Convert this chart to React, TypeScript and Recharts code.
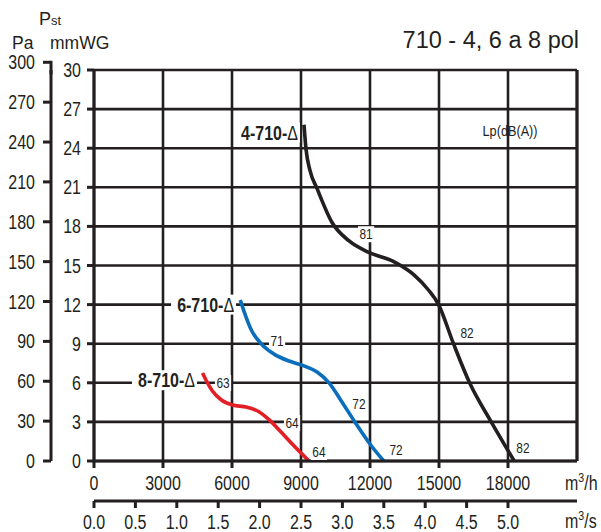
import React from "react";
import {
  ComposedChart,
  Line,
  XAxis,
  YAxis,
  CartesianGrid,
  ReferenceLine,
  ReferenceDot,
} from "recharts";

const INK = "#231f20";
const FONT = "'Liberation Sans', Arial, sans-serif";
const SQUEEZE = 0.82; // no narrow face installed, so squeeze Liberation Sans

// flow axis (m3/h) and its twin in m3/s
const FLOW_TICKS = [0, 3000, 6000, 9000, 12000, 15000, 18000];
const FLOW_MAX = 21000;
const SEC_TICKS = [0, 0.5, 1, 1.5, 2, 2.5, 3, 3.5, 4, 4.5, 5];
const MMWG_TICKS = [0, 3, 6, 9, 12, 15, 18, 21, 24, 27, 30];
const PA_TICKS = [0, 30, 60, 90, 120, 150, 180, 210, 240, 270, 300];
const MMWG_TO_PA = 9.80665;

// q = m3/h, p = mmWG
const curve4 = [
  { q: 9130, p: 25.8 },
  { q: 9220, p: 23.9 },
  { q: 9390, p: 22.3 },
  { q: 9700, p: 20.9 },
  { q: 10350, p: 18.3 },
  { q: 11080, p: 16.9 },
  { q: 11950, p: 16.0 },
  { q: 13030, p: 15.3 },
  { q: 13900, p: 14.3 },
  { q: 14550, p: 13.1 },
  { q: 14980, p: 12.0 },
  { q: 15630, p: 9.0 },
  { q: 16330, p: 6.0 },
  { q: 17270, p: 3.0 },
  { q: 18270, p: 0 },
];

const curve6 = [
  { q: 6360, p: 12.35 },
  { q: 6580, p: 11.2 },
  { q: 6840, p: 10.05 },
  { q: 7270, p: 9.0 },
  { q: 7830, p: 8.2 },
  { q: 8480, p: 7.67 },
  { q: 9130, p: 7.3 },
  { q: 9700, p: 6.83 },
  { q: 10220, p: 6.0 },
  { q: 10780, p: 4.53 },
  { q: 11340, p: 3.0 },
  { q: 12030, p: 1.23 },
  { q: 12600, p: 0 },
];

const curve8 = [
  { q: 4720, p: 6.75 },
  { q: 4890, p: 6.14 },
  { q: 5150, p: 5.37 },
  { q: 5540, p: 4.68 },
  { q: 6020, p: 4.3 },
  { q: 6620, p: 4.14 },
  { q: 7190, p: 3.76 },
  { q: 7620, p: 3.15 },
  { q: 8050, p: 2.38 },
  { q: 8700, p: 1.15 },
  { q: 9350, p: 0 },
];

// keeps the m3/s axis alive (it carries no series of its own)
const secAxisSpan = [
  { q: 0, p: 0 },
  { q: FLOW_MAX / 3600, p: 0 },
];

const seriesNames = [
  { q: 8870, p: 25.2, text: "4-710-" },
  { q: 6090, p: 12.0, text: "6-710-" },
  { q: 4390, p: 6.2, text: "8-710-" },
];

const lpLabels = [
  { q: 11830, p: 17.4, text: "81" },
  { q: 16220, p: 9.82, text: "82" },
  { q: 18650, p: 1.0, text: "82" },
  { q: 7960, p: 9.2, text: "71" },
  { q: 11520, p: 4.37, text: "72" },
  { q: 13130, p: 0.84, text: "72" },
  { q: 5610, p: 5.98, text: "63" },
  { q: 8610, p: 2.92, text: "64" },
  { q: 9780, p: 0.69, text: "64" },
];

function NText(props: {
  x: number;
  y: number;
  size: number;
  anchor?: "start" | "middle" | "end";
  dy?: string;
  children: React.ReactNode;
}) {
  const { x, y, size, anchor = "start", dy = "0", children } = props;
  return (
    <g transform={`translate(${x},${y}) scale(${SQUEEZE},1)`}>
      <text x={0} y={0} dy={dy} textAnchor={anchor} fontSize={size} fontFamily={FONT} fill={INK}>
        {children}
      </text>
    </g>
  );
}

function BottomTick(props: any) {
  const { x, y, payload, digits } = props;
  const v = digits ? Number(payload.value).toFixed(digits) : payload.value;
  return (
    <NText x={x} y={y} size={19.5} anchor="middle" dy="0.71em">
      {v}
    </NText>
  );
}

function LeftTick(props: any) {
  const { x, y, payload } = props;
  return (
    <NText x={x} y={y} size={19.5} anchor="end" dy="0.36em">
      {payload.value}
    </NText>
  );
}

function PaTick(props: any) {
  const { x, y, payload } = props;
  return (
    <g>
      <NText x={x} y={y} size={19.5} anchor="end" dy="0.36em">
        {payload.value}
      </NText>
      {payload.value === 300 && (
        <line x1={x + 16} x2={x + 16} y1={y - 1.5} y2={y + 12} stroke={INK} strokeWidth={3} />
      )}
    </g>
  );
}

function LpTag({ cx, cy, text }: { cx: number; cy: number; text: string }) {
  const w = text.length * 6.6 + 3;
  return (
    <g>
      <rect x={cx - w / 2} y={cy - 8} width={w} height={16} fill="#fff" />
      <NText x={cx} y={cy} size={14.5} anchor="middle" dy="0.36em">
        {text}
      </NText>
    </g>
  );
}

function NameTag({ cx, cy, text }: { cx: number; cy: number; text: string }) {
  const w = 64;
  return (
    <g>
      <rect x={cx - w + 1} y={cy - 10} width={w + 1} height={20} fill="#fff" />
      <NText x={cx} y={cy} size={19.5} anchor="end" dy="0.36em">
        <tspan fontWeight="bold">{text}</tspan>
        <tspan>Δ</tspan>
      </NText>
    </g>
  );
}

const axisStroke = { stroke: INK, strokeWidth: 3 };

export default function App() {
  return (
    <div style={{ position: "absolute", left: 0, top: 0, width: 601, height: 532, background: "#fff" }}>
      <ComposedChart width={601} height={532} margin={{ top: 70, right: 24, bottom: 0, left: 0 }}>
        <CartesianGrid xAxisId="h" yAxisId="mm" stroke={INK} strokeWidth={2.6} fill="none" />
        <XAxis
          xAxisId="h"
          type="number"
          dataKey="q"
          domain={[0, FLOW_MAX]}
          allowDataOverflow
          ticks={FLOW_TICKS}
          interval={0}
          height={40}
          tickSize={7}
          tickMargin={8}
          axisLine={axisStroke}
          tickLine={axisStroke}
          tick={(p: any) => <BottomTick {...p} />}
        />
        <XAxis
          xAxisId="s"
          type="number"
          dataKey="q"
          domain={[0, FLOW_MAX / 3600]}
          allowDataOverflow
          ticks={SEC_TICKS}
          interval={0}
          height={31}
          tickSize={7}
          tickMargin={7}
          axisLine={axisStroke}
          tickLine={axisStroke}
          tick={(p: any) => <BottomTick {...p} digits={1} />}
        />
        <YAxis
          yAxisId="mm"
          type="number"
          domain={[0, 30]}
          allowDataOverflow
          ticks={MMWG_TICKS}
          interval={0}
          width={43}
          tickSize={7}
          tickMargin={6}
          axisLine={axisStroke}
          tickLine={axisStroke}
          tick={(p: any) => <LeftTick {...p} />}
        />
        <YAxis
          yAxisId="pa"
          type="number"
          domain={[0, 30 * MMWG_TO_PA]}
          allowDataOverflow
          ticks={PA_TICKS}
          interval={0}
          width={51}
          tickSize={8}
          tickMargin={8}
          axisLine={axisStroke}
          tickLine={axisStroke}
          tick={(p: any) => <PaTick {...p} />}
        />
        <ReferenceLine xAxisId="h" yAxisId="mm" x={FLOW_MAX} stroke={INK} strokeWidth={3} />

        <Line xAxisId="s" yAxisId="mm" data={secAxisSpan} dataKey="p" stroke="none" dot={false} activeDot={false} isAnimationActive={false} />
        <Line xAxisId="h" yAxisId="mm" data={curve4} dataKey="p" type="monotone" stroke={INK} strokeWidth={3.6} dot={false} isAnimationActive={false} />
        <Line xAxisId="h" yAxisId="mm" data={curve6} dataKey="p" type="monotone" stroke="#0a6ebd" strokeWidth={3.6} dot={false} isAnimationActive={false} />
        <Line xAxisId="h" yAxisId="mm" data={curve8} dataKey="p" type="monotone" stroke="#e31e24" strokeWidth={3.6} dot={false} isAnimationActive={false} />

        {lpLabels.map((l, i) => (
          <ReferenceDot
            key={"lp" + i}
            xAxisId="h"
            yAxisId="mm"
            x={l.q}
            y={l.p}
            r={0}
            shape={(p: any) => <LpTag cx={p.cx} cy={p.cy} text={l.text} />}
          />
        ))}
        {seriesNames.map((s) => (
          <ReferenceDot
            key={s.text}
            xAxisId="h"
            yAxisId="mm"
            x={s.q}
            y={s.p}
            r={0}
            shape={(p: any) => <NameTag cx={p.cx} cy={p.cy} text={s.text} />}
          />
        ))}
        <ReferenceDot
          xAxisId="h"
          yAxisId="mm"
          x={18090}
          y={25.4}
          r={0}
          shape={(p: any) => (
            <NText x={p.cx} y={p.cy} size={15.5} anchor="middle" dy="0.36em">
              Lp(dB(A))
            </NText>
          )}
        />
      </ComposedChart>

      <svg width={601} height={532} style={{ position: "absolute", left: 0, top: 0, pointerEvents: "none" }}>
        <text x={579} y={48} textAnchor="end" fontSize={23.5} fontFamily={FONT} fill={INK}>
          710 - 4, 6 a 8 pol
        </text>
        <text x={39} y={25} fontSize={18} fontFamily={FONT} fill={INK}>
          P<tspan fontSize={13}>st</tspan>
        </text>
        <text x={12} y={48.5} fontSize={17.5} fontFamily={FONT} fill={INK}>Pa</text>
        <text x={50} y={48.5} fontSize={17.5} fontFamily={FONT} fill={INK}>mmWG</text>
        <NText x={565} y={490} size={19.5}>
          m<tspan fontSize={13} dy={-8}>3</tspan>
          <tspan dy={8}>/h</tspan>
        </NText>
        <NText x={565} y={528} size={19.5}>
          m<tspan fontSize={13} dy={-8}>3</tspan>
          <tspan dy={8}>/s</tspan>
        </NText>
      </svg>
    </div>
  );
}
